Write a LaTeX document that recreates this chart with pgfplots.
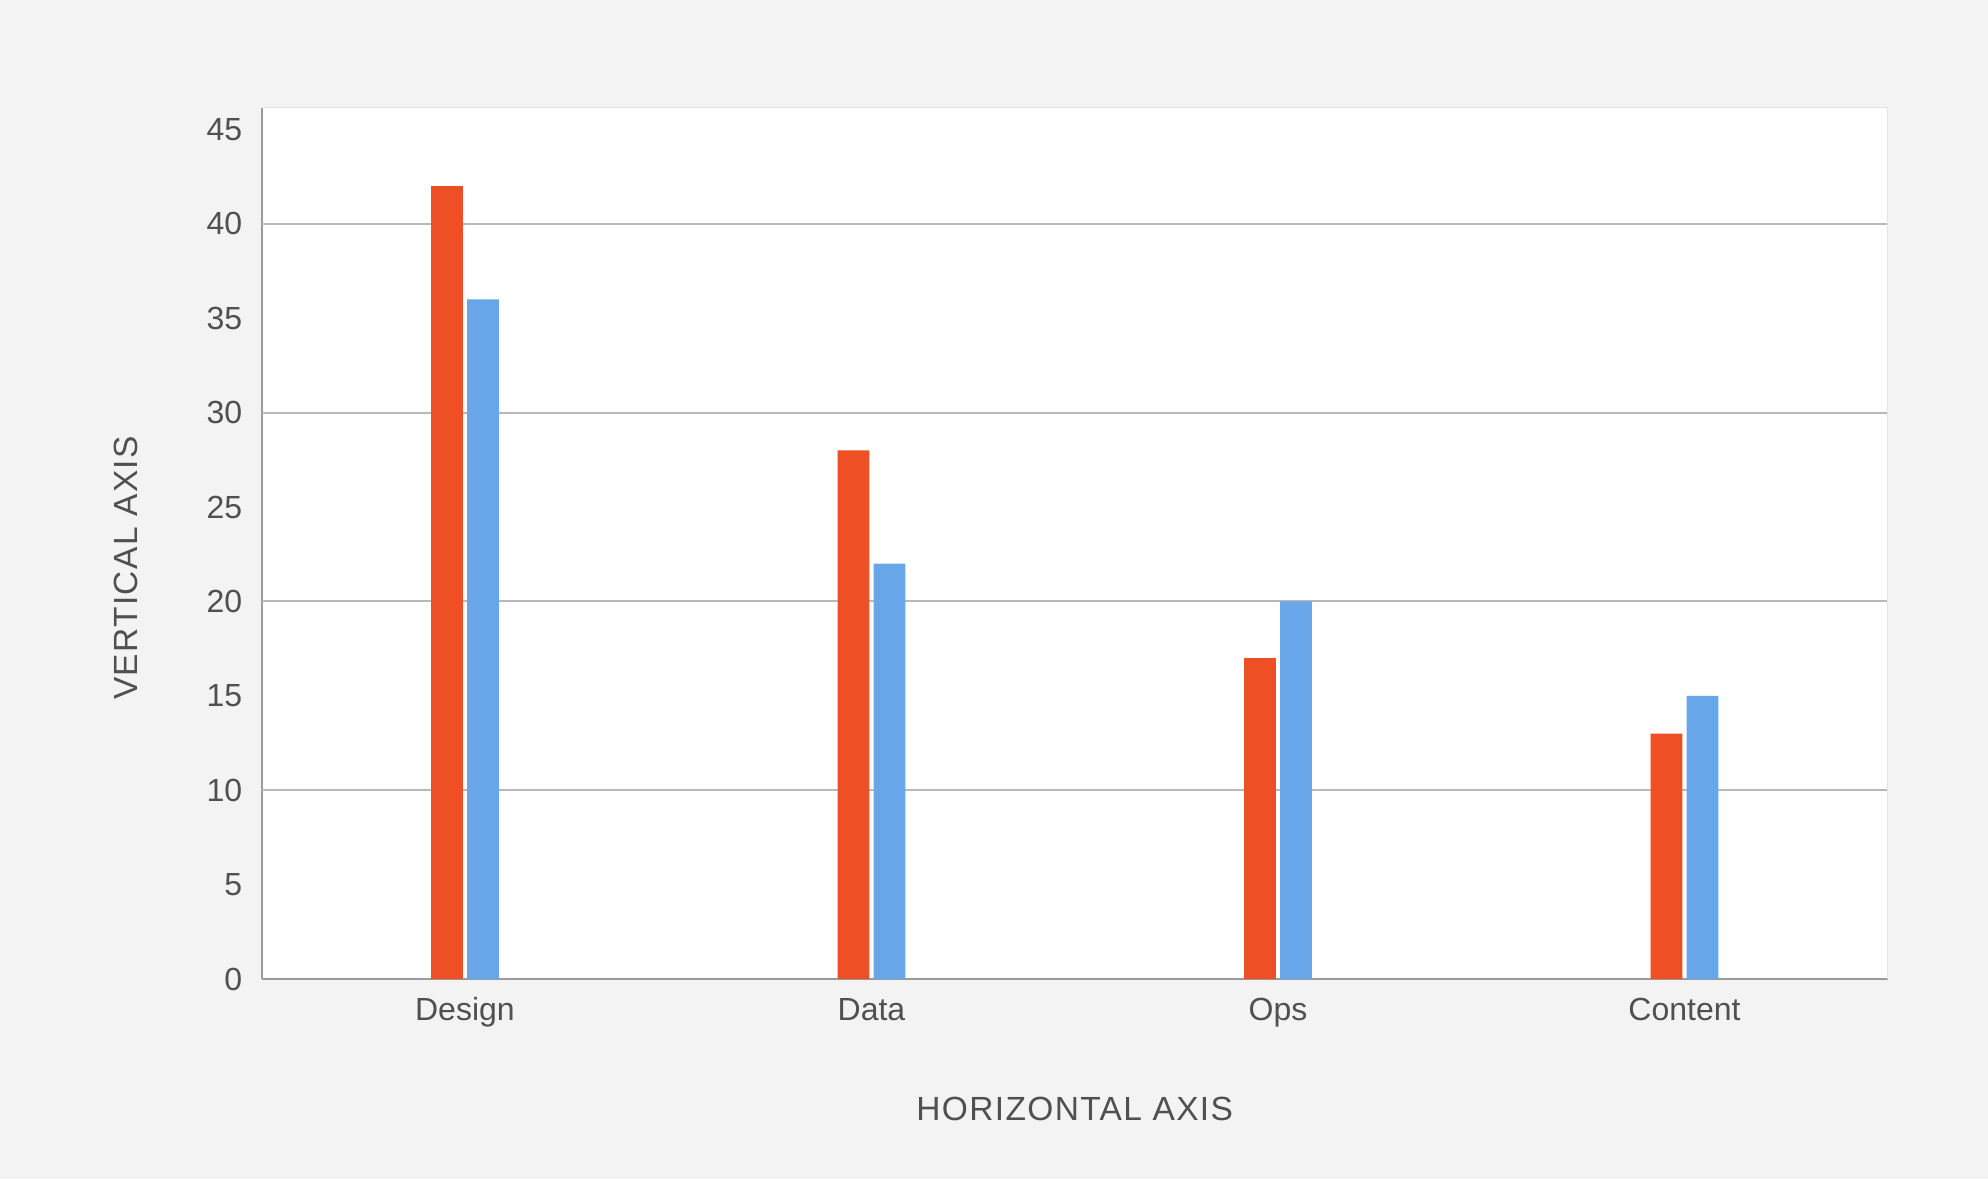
\documentclass[border=0pt]{standalone}
\usepackage{pgfplots}
\pgfplotsset{compat=1.18}
\usepackage{fontspec}
\setmainfont{Liberation Sans}
\newfontfamily\labelfont[LetterSpace=4]{Liberation Sans}
\definecolor{bgc}{RGB}{243,243,244}
\definecolor{redc}{RGB}{239,79,36}
\definecolor{bluec}{RGB}{102,166,233}
\definecolor{txt}{RGB}{80,80,80}
\definecolor{gridc}{RGB}{185,185,185}
\definecolor{axc}{RGB}{155,155,155}
\definecolor{bordc}{RGB}{228,228,228}
\begin{document}
\begin{tikzpicture}
\path[fill=bgc] (0,0) rectangle (795.2pt,471.6pt);
\begin{axis}[
  at={(104.68pt,80pt)}, anchor=south west,
  scale only axis, width=650.4pt, height=348.52pt,
  xmin=-0.5, xmax=3.5, ymin=0, ymax=46.16,
  xtick={0,1,2,3}, xticklabels={Design,Data,Ops,Content},
  ytick={0,5,...,45},
  extra y ticks={10,20,30,40}, extra y tick labels={},
  extra y tick style={grid=major},
  major grid style={draw=gridc, line width=0.8pt},
  major tick length=0pt,
  axis lines*=left,
  axis line style={draw=axc, line width=0.8pt, -},
  axis background/.style={fill=white},
  /pgf/number format/assume math mode=true,
  tick label style={font=\fontsize{12.8pt}{15pt}\selectfont, text=txt},
  yticklabel style={anchor=east, inner sep=0pt, xshift=-7.6pt},
  xticklabel style={anchor=base, inner sep=0pt, yshift=-16.7pt},
  xlabel={HORIZONTAL AXIS}, ylabel={VERTICAL AXIS},
  label style={font=\labelfont\fontsize{13.4pt}{16pt}\selectfont, text=txt},
  xlabel style={at={(axis description cs:0.5,-0.16183)}, anchor=base},
  ylabel style={at={(axis description cs:-0.07611,0.4717)}, anchor=base},
  ybar, bar width=12.7pt,
  clip=false,
]
\addplot[fill=redc, draw=none, bar shift=-7.2pt] coordinates {(0,42) (1,28) (2,17) (3,13)};
\addplot[fill=bluec, draw=none, bar shift=7.2pt] coordinates {(0,36) (1,22) (2,20) (3,15)};
\draw[bordc, line width=0.4pt] (rel axis cs:0,1) -- (rel axis cs:1,1) -- (rel axis cs:1,0);
\end{axis}
\end{tikzpicture}
\end{document}
